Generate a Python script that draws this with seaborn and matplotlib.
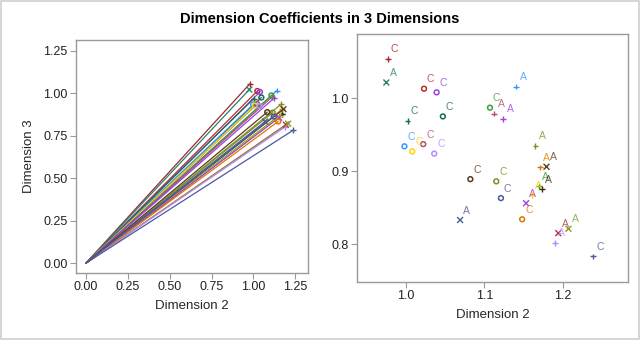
import numpy as np
import pandas as pd
import matplotlib
matplotlib.use("Agg")
import matplotlib.pyplot as plt
import seaborn as sns
from matplotlib.patches import Rectangle

# ---- data ----
dim2 = [0.977, 0.975, 1.023, 1.039, 1.002, 1.047, 0.998, 1.022, 1.008, 1.036,
        1.1405, 1.107, 1.1125, 1.124, 1.165, 1.171, 1.179, 1.115, 1.169, 1.173,
        1.160, 1.121, 1.153, 1.148, 1.194, 1.207, 1.190, 1.2386, 1.082, 1.069]
dim3 = [1.054, 1.0215, 1.013, 1.008, 0.969, 0.975, 0.934, 0.937, 0.927, 0.924,
        1.016, 0.987, 0.979, 0.972, 0.935, 0.905, 0.906, 0.886, 0.879, 0.875,
        0.867, 0.863, 0.856, 0.834, 0.815, 0.821, 0.802, 0.783, 0.889, 0.833]
labels = ["C", "A", "C", "C", "C", "C", "C", "C", "C", "C",
          "A", "C", "A", "A", "A", "A", "A", "C", "A", "A",
          "A", "C", "A", "C", "A", "A", "A", "C", "C", "A"]
markers = ["+", "x", "o", "o", "+", "o", "o", "o", "o", "o",
           "+", "o", "+", "+", "+", "+", "x", "o", "+", "+",
           "+", "o", "x", "o", "x", "x", "+", "+", "o", "x"]
colors = ["#A0282A", "#2A8070", "#B03030", "#A040E0", "#1A6A50", "#1A6A5A",
          "#3399FF", "#B0506E", "#FFD200", "#B58CFF", "#3399FF", "#3CA03C",
          "#B0506E", "#A040E0", "#7F8F2A", "#D97A00", "#5A4020", "#7F8F2A",
          "#2AA02A", "#3A2A10", "#FFD200", "#4A5A9A", "#A040E0", "#D97A00",
          "#B03A3A", "#8A9A30", "#B58CFF", "#4A5A9A", "#5A3A1A", "#4A5A9A"]

ids = [f"p{i}" for i in range(len(dim2))]
df = pd.DataFrame({"id": ids, "Dimension 2": dim2, "Dimension 3": dim3,
                   "label": labels, "marker": markers, "color": colors})
palette = dict(zip(ids, colors))

# lines from origin to each point
rows = []
for i, r in df.iterrows():
    rows.append({"id": r["id"], "Dimension 2": 0.0, "Dimension 3": 0.0})
    rows.append({"id": r["id"], "Dimension 2": r["Dimension 2"], "Dimension 3": r["Dimension 3"]})
lines = pd.DataFrame(rows)

sns.set_theme(style="white")
plt.rcParams["font.family"] = ["Liberation Sans", "DejaVu Sans"]

fig = plt.figure(figsize=(6.4, 3.4), dpi=100)
fig.patches.append(Rectangle((0.001, 0.002), 0.997, 0.995, transform=fig.transFigure,
                             fill=False, edgecolor="#D0D0D0", linewidth=1.2))
fig.text(0.5, 0.944, "Dimension Coefficients in 3 Dimensions", ha="center", va="center",
         fontsize=10.5, fontweight="bold", color="black")

axL = fig.add_axes([0.1188, 0.197, 0.3625, 0.685])
axR = fig.add_axes([0.5578, 0.1706, 0.4234, 0.7294])

spine_c = "#9A9A9A"


def draw_points(ax):
    for mk in ["+", "x"]:
        sub = df[df["marker"] == mk]
        sns.scatterplot(data=sub, x="Dimension 2", y="Dimension 3", hue="id",
                        palette=palette, marker=mk, s=18, linewidth=1.0,
                        legend=False, ax=ax, zorder=3)
    sub = df[df["marker"] == "o"]
    ax.scatter(sub["Dimension 2"], sub["Dimension 3"], s=12, facecolors="none",
               edgecolors=sub["color"], linewidths=1.1, zorder=3)


# left panel
sns.lineplot(data=lines, x="Dimension 2", y="Dimension 3", hue="id", units="id",
             estimator=None, sort=False, palette=palette, linewidth=0.9,
             legend=False, ax=axL)
draw_points(axL)
axL.set_xlim(-0.06, 1.326)
axL.set_ylim(-0.059, 1.313)
axL.set_xticks([0, 0.25, 0.5, 0.75, 1.0, 1.25])
axL.set_yticks([0, 0.25, 0.5, 0.75, 1.0, 1.25])
axL.set_xticklabels(["0.00", "0.25", "0.50", "0.75", "1.00", "1.25"])
axL.set_yticklabels(["0.00", "0.25", "0.50", "0.75", "1.00", "1.25"])
axL.set_xlabel("Dimension 2", fontsize=9.5, labelpad=5)
axL.set_ylabel("Dimension 3", fontsize=9.5, labelpad=6)

# right panel
draw_points(axR)
for x, y, t, c in zip(dim2, dim3, labels, colors):
    axR.annotate(t, (x, y), xytext=(4.8, 6.8), textcoords="offset points",
                 ha="center", va="center", fontsize=7.5, color=c, alpha=0.8)
axR.set_xlim(0.9376, 1.2828)
axR.set_ylim(0.748, 1.088)
axR.set_xticks([1.0, 1.1, 1.2])
axR.set_yticks([0.8, 0.9, 1.0])
axR.set_xlabel("Dimension 2", fontsize=9.5, labelpad=5)
axR.set_ylabel("")

for ax in (axL, axR):
    for s in ax.spines.values():
        s.set_color(spine_c)
        s.set_linewidth(1.0)
    ax.tick_params(axis="both", direction="out", length=4, width=0.8, color=spine_c,
                   labelsize=9, labelcolor="#222222", pad=2,
                   bottom=True, left=True)
    ax.grid(False)
    ax.set_facecolor("white")

fig.savefig("out.png", dpi=100)
